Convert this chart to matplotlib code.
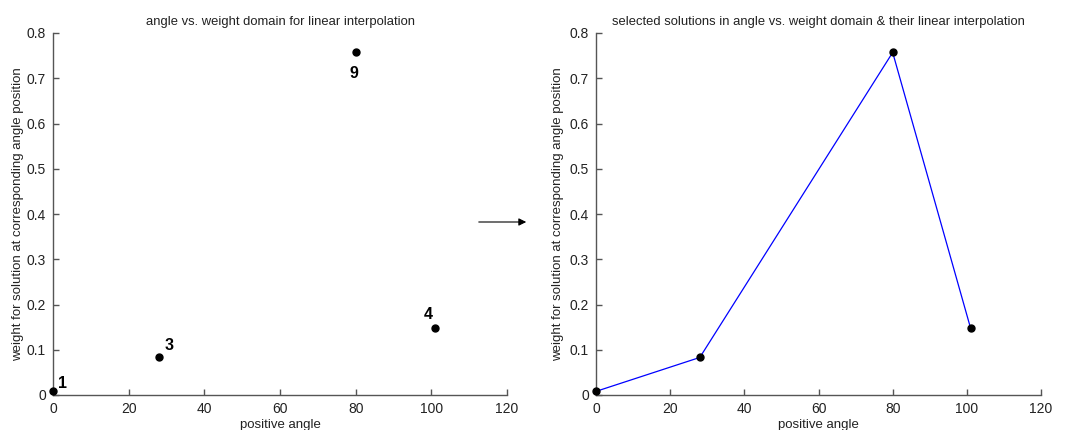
import matplotlib
matplotlib.use("Agg")
import matplotlib.pyplot as plt
import numpy as np

plt.rcParams['font.family'] = ['Liberation Sans', 'DejaVu Sans']

angles = [0, 28, 80, 101]
weights = [0.008, 0.083, 0.757, 0.148]
labels = ['1', '3', '9', '4']
label_offsets = [(2.6, 0.0185), (2.7, 0.027), (-0.5, -0.047), (-1.9, 0.029)]
xticks = [0, 20, 40, 60, 80, 100, 120]
yticks = [0, 0.1, 0.2, 0.3, 0.4, 0.5, 0.6, 0.7, 0.8]
ytick_labels = ['0', '0.1', '0.2', '0.3', '0.4', '0.5', '0.6', '0.7', '0.8']

fig = plt.figure(figsize=(10.7, 4.3), dpi=100)
ax1 = fig.add_axes([53/1070, 1-395/430, 454/1070, 362/430])
ax2 = fig.add_axes([596/1070, 1-395/430, 445/1070, 362/430])

def style(ax, title, ylab_x):
    ax.set_xlim(0, 120)
    ax.set_ylim(0, 0.8)
    ax.set_xticks(xticks)
    ax.set_yticks(yticks)
    ax.set_yticklabels(ytick_labels)
    ax.spines['top'].set_visible(False)
    ax.spines['right'].set_visible(False)
    for s in ['left', 'bottom']:
        ax.spines[s].set_color('#555555')
        ax.spines[s].set_linewidth(1.0)
    ax.tick_params(direction='in', length=4, width=1.0, labelsize=10, color='#555555',
                   labelcolor='#222222')
    ax.tick_params(axis='x', pad=5)
    ax.tick_params(axis='y', pad=5)
    ax.set_title(title, fontsize=9.4, pad=6, color='#222222')
    ax.set_xlabel('positive angle', fontsize=9.5, labelpad=2, color='#222222')
    ax.set_ylabel('weight for solution at corresponding angle position', fontsize=9.5, color='#222222')
    ax.yaxis.set_label_coords(ylab_x, 0.5)

ax1.plot(angles, weights, 'o', color='black', markersize=5, clip_on=False, zorder=5)
for a, w, lab, (dx, dy) in zip(angles, weights, labels, label_offsets):
    ax1.text(a + dx, w + dy, lab, fontsize=11.5, fontweight='bold', ha='center', va='center')
style(ax1, 'angle vs. weight domain for linear interpolation', -0.064)

ax2.plot(angles, weights, '-', color='#0000ff', linewidth=0.9, zorder=4)
ax2.plot(angles, weights, 'o', color='black', markersize=5, clip_on=False, zorder=5)
style(ax2, 'selected solutions in angle vs. weight domain & their linear interpolation', -0.072)

fig.add_artist(matplotlib.patches.FancyArrowPatch((476/1070, 1-222/430), (529/1070, 1-222/430),
               transform=fig.transFigure, arrowstyle='-|>', mutation_scale=11, color='black', linewidth=0.8))

fig.savefig('out.png', dpi=100)
